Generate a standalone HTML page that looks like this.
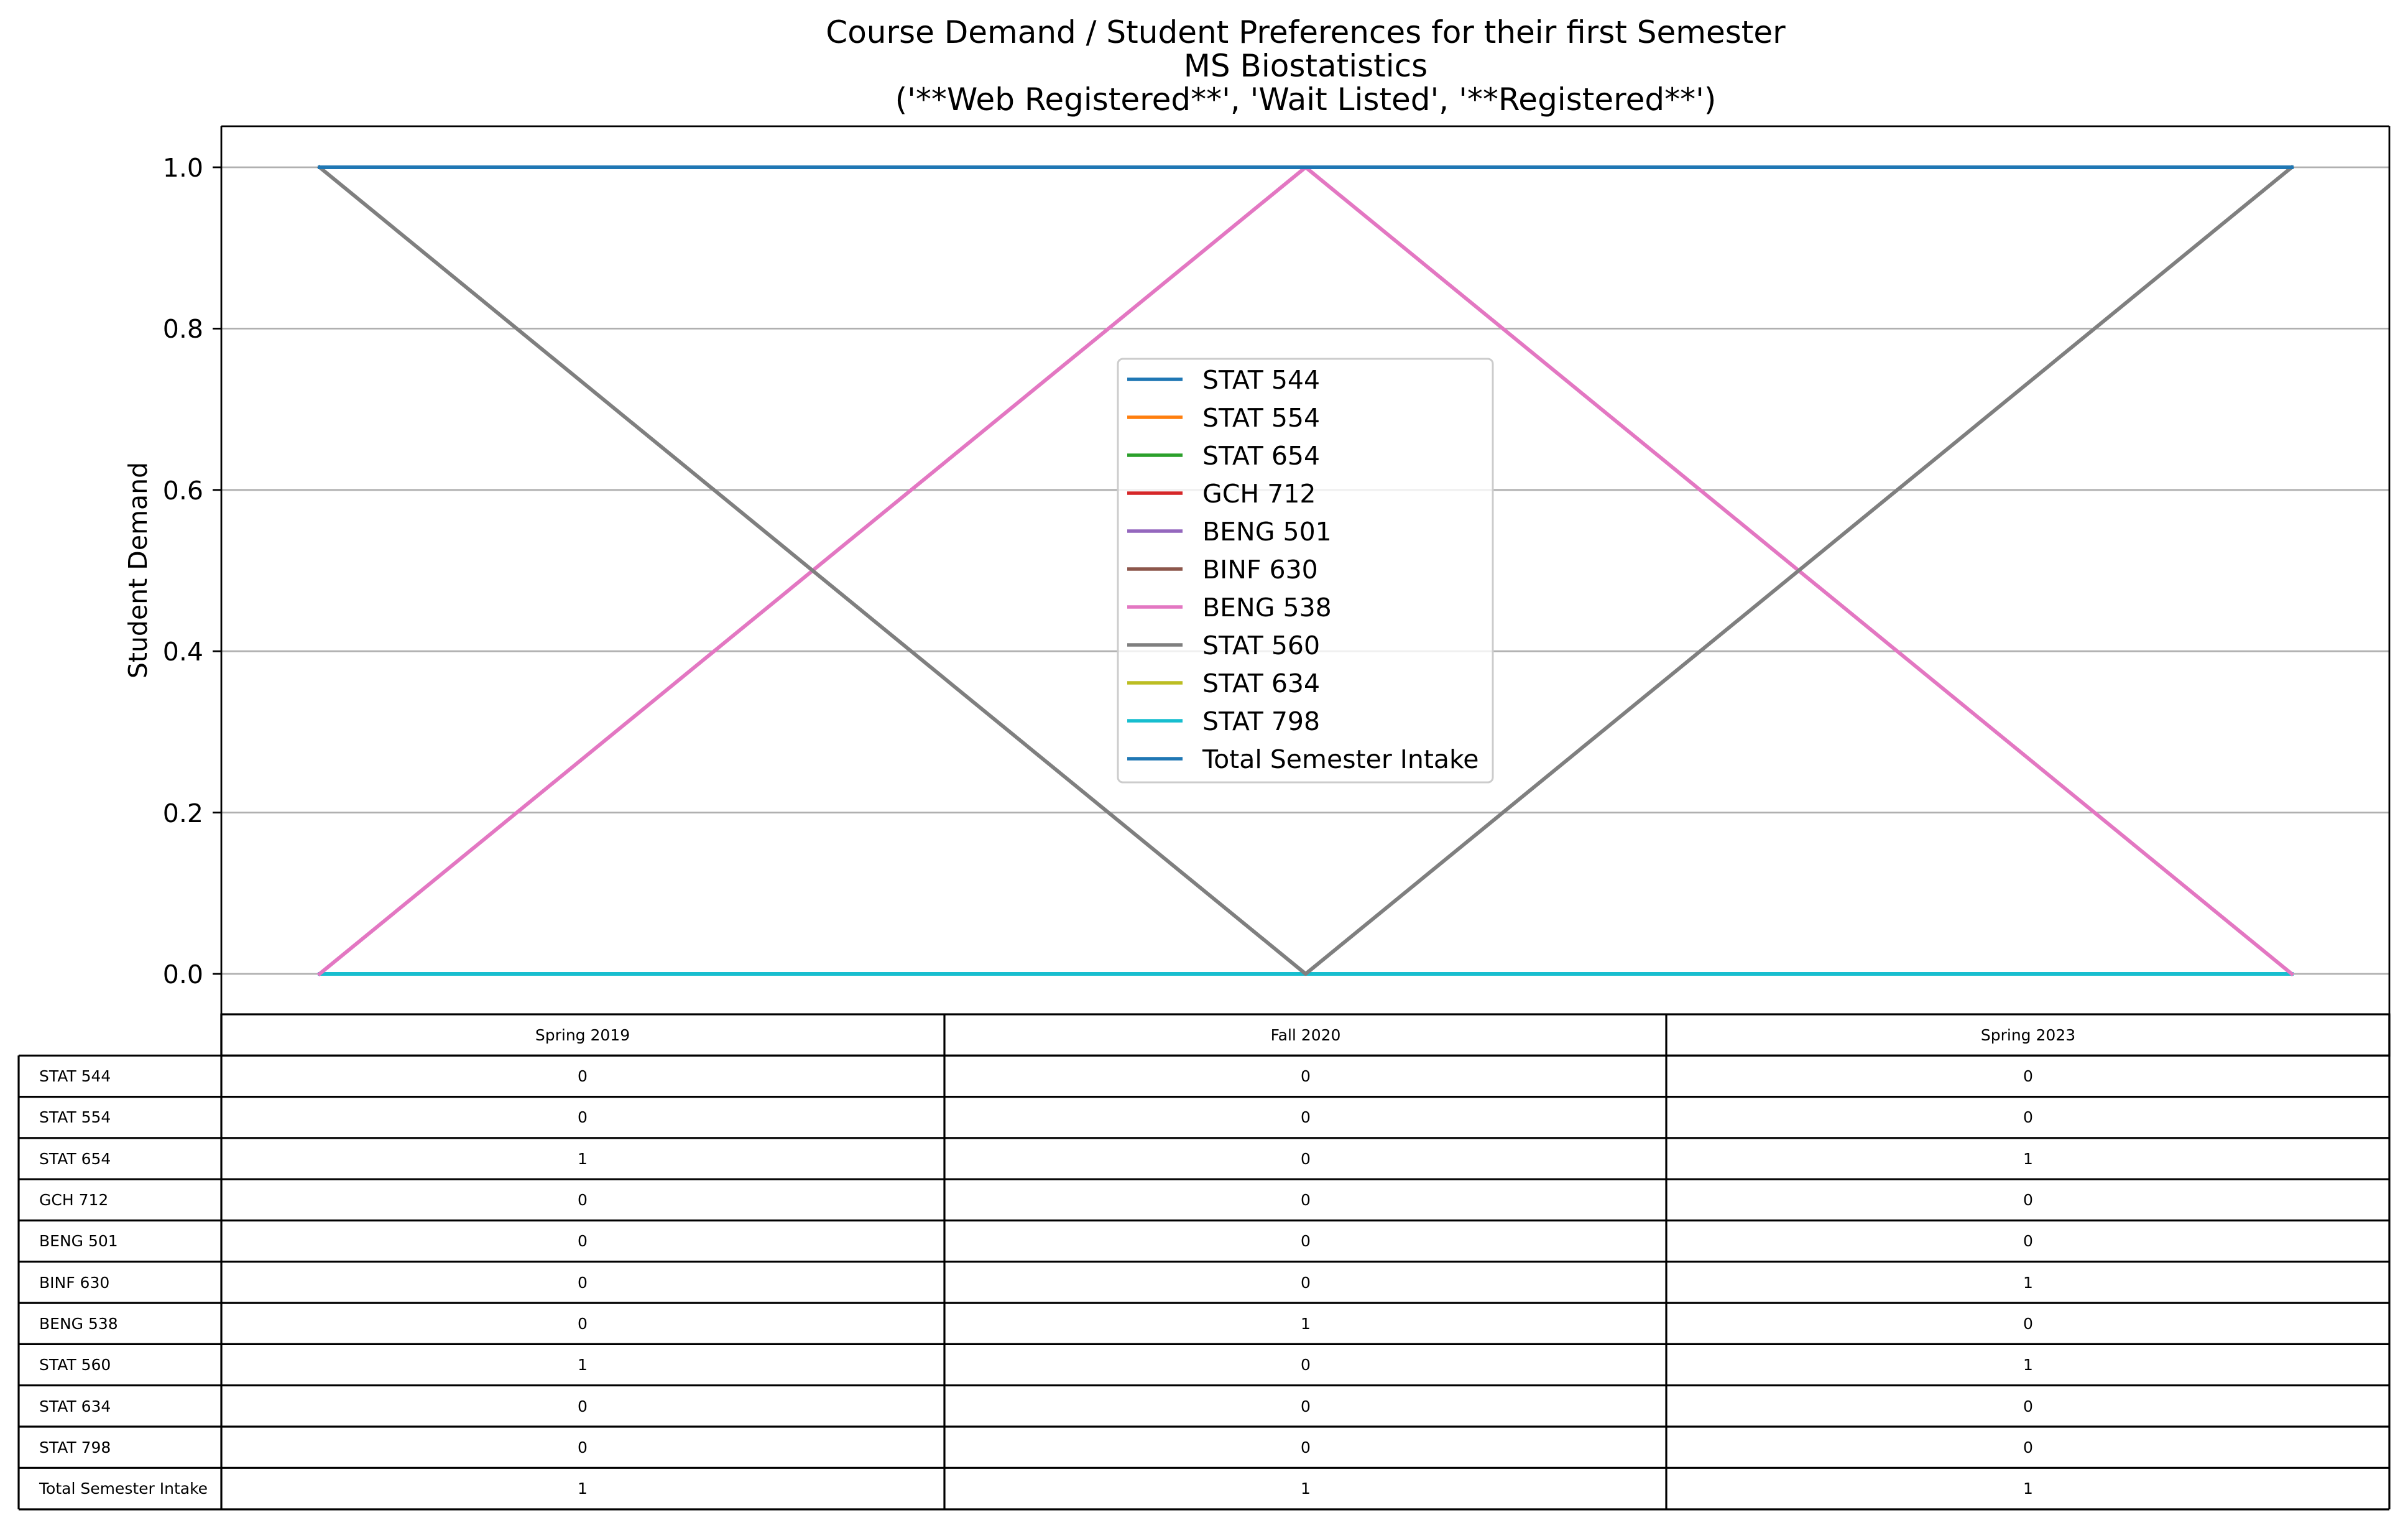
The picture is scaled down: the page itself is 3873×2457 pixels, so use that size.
<!DOCTYPE html>
<html><head><meta charset="utf-8"><style>html,body{margin:0;padding:0;background:#fff}svg{display:block}</style></head>
<body>
<svg width="3873" height="2457" viewBox="0 0 3873 2457" xmlns="http://www.w3.org/2000/svg" font-family="'DejaVu Sans','Liberation Sans',sans-serif">
<rect width="3873" height="2457" fill="#fff"/>
<g font-size="50" text-anchor="middle" fill="#000">
<text x="2100" y="69">Course Demand / Student Preferences for their first Semester</text>
<text x="2100" y="123">MS Biostatistics</text>
<text x="2100" y="177">('**Web Registered**', 'Wait Listed', '**Registered**')</text>
</g>
<g stroke="#b0b0b0" stroke-width="2.8">
<line x1="356" y1="269" x2="3843" y2="269"/>
<line x1="356" y1="528.4" x2="3843" y2="528.4"/>
<line x1="356" y1="787.8" x2="3843" y2="787.8"/>
<line x1="356" y1="1047.2" x2="3843" y2="1047.2"/>
<line x1="356" y1="1306.6" x2="3843" y2="1306.6"/>
<line x1="356" y1="1566" x2="3843" y2="1566"/>
</g>
<g stroke="#000" stroke-width="2.8">
<line x1="342" y1="269" x2="356" y2="269"/>
<line x1="342" y1="528.4" x2="356" y2="528.4"/>
<line x1="342" y1="787.8" x2="356" y2="787.8"/>
<line x1="342" y1="1047.2" x2="356" y2="1047.2"/>
<line x1="342" y1="1306.6" x2="356" y2="1306.6"/>
<line x1="342" y1="1566" x2="356" y2="1566"/>
</g>
<g font-size="41" text-anchor="end" fill="#000">
<text x="327" y="284">1.0</text>
<text x="327" y="543">0.8</text>
<text x="327" y="803">0.6</text>
<text x="327" y="1062">0.4</text>
<text x="327" y="1322">0.2</text>
<text x="327" y="1581">0.0</text>
</g>
<text transform="translate(236,917) rotate(-90)" font-size="41" text-anchor="middle">Student Demand</text>
<g fill="none" stroke-width="6" stroke-linejoin="round" stroke-linecap="square">
<polyline points="514,1566 2100,1566 3686,1566" stroke="#17becf"/>
<polyline points="514,1566 2100,269 3686,1566" stroke="#e377c2"/>
<polyline points="514,269 2100,1566 3686,269" stroke="#7f7f7f"/>
<polyline points="514,269 2100,269 3686,269" stroke="#1f77b4"/>
</g>
<rect x="1798" y="577" width="603" height="681" rx="8" fill="#fff" fill-opacity="0.8" stroke="#cccccc" stroke-width="3"/>
<g stroke-width="5.5">
<line x1="1813" y1="610" x2="1902" y2="610" stroke="#1f77b4"/>
<line x1="1813" y1="671" x2="1902" y2="671" stroke="#ff7f0e"/>
<line x1="1813" y1="732" x2="1902" y2="732" stroke="#2ca02c"/>
<line x1="1813" y1="793" x2="1902" y2="793" stroke="#d62728"/>
<line x1="1813" y1="854" x2="1902" y2="854" stroke="#9467bd"/>
<line x1="1813" y1="915" x2="1902" y2="915" stroke="#8c564b"/>
<line x1="1813" y1="976" x2="1902" y2="976" stroke="#e377c2"/>
<line x1="1813" y1="1037" x2="1902" y2="1037" stroke="#7f7f7f"/>
<line x1="1813" y1="1098" x2="1902" y2="1098" stroke="#bcbd22"/>
<line x1="1813" y1="1159" x2="1902" y2="1159" stroke="#17becf"/>
<line x1="1813" y1="1220" x2="1902" y2="1220" stroke="#1f77b4"/>
</g>
<g font-size="41" fill="#000">
<text x="1934" y="625">STAT 544</text>
<text x="1934" y="686">STAT 554</text>
<text x="1934" y="747">STAT 654</text>
<text x="1934" y="808">GCH 712</text>
<text x="1934" y="869">BENG 501</text>
<text x="1934" y="930">BINF 630</text>
<text x="1934" y="991">BENG 538</text>
<text x="1934" y="1052">STAT 560</text>
<text x="1934" y="1113">STAT 634</text>
<text x="1934" y="1174">STAT 798</text>
<text x="1934" y="1235">Total Semester Intake</text>
</g>
<g stroke="#000" stroke-width="2.8" fill="none">
<line x1="356" y1="203" x2="3843" y2="203"/>
<line x1="356" y1="203" x2="356" y2="1631"/>
<line x1="3843" y1="203" x2="3843" y2="1631"/>
</g>
<g stroke="#000" stroke-width="3.2" fill="none">
<rect x="356" y="1631" width="3487" height="66.3"/>
<line x1="1519" y1="1631" x2="1519" y2="2427"/>
<line x1="2680" y1="1631" x2="2680" y2="2427"/>
<line x1="356" y1="1631" x2="356" y2="2427"/>
<line x1="3843" y1="1631" x2="3843" y2="2427"/>
<line x1="30" y1="1697.3" x2="30" y2="2427"/>
<line x1="30" y1="1697.3" x2="3843" y2="1697.3"/>
<line x1="30" y1="1763.6" x2="3843" y2="1763.6"/>
<line x1="30" y1="1829.9" x2="3843" y2="1829.9"/>
<line x1="30" y1="1896.2" x2="3843" y2="1896.2"/>
<line x1="30" y1="1962.5" x2="3843" y2="1962.5"/>
<line x1="30" y1="2028.8" x2="3843" y2="2028.8"/>
<line x1="30" y1="2095.1" x2="3843" y2="2095.1"/>
<line x1="30" y1="2161.4" x2="3843" y2="2161.4"/>
<line x1="30" y1="2227.7" x2="3843" y2="2227.7"/>
<line x1="30" y1="2294" x2="3843" y2="2294"/>
<line x1="30" y1="2360.3" x2="3843" y2="2360.3"/>
<line x1="30" y1="2427" x2="3843" y2="2427"/>
</g>
<g font-size="25" fill="#000">
<g text-anchor="middle">
<text x="937" y="1673">Spring 2019</text><text x="2100" y="1673">Fall 2020</text><text x="3262" y="1673">Spring 2023</text>
</g>
<g>
<text x="63" y="1739">STAT 544</text>
<text x="63" y="1805">STAT 554</text>
<text x="63" y="1872">STAT 654</text>
<text x="63" y="1938">GCH 712</text>
<text x="63" y="2004">BENG 501</text>
<text x="63" y="2071">BINF 630</text>
<text x="63" y="2137">BENG 538</text>
<text x="63" y="2203">STAT 560</text>
<text x="63" y="2270">STAT 634</text>
<text x="63" y="2336">STAT 798</text>
<text x="63" y="2402">Total Semester Intake</text>
</g>
<g text-anchor="middle">
<text x="937" y="1739">0</text><text x="2100" y="1739">0</text><text x="3262" y="1739">0</text>
<text x="937" y="1805">0</text><text x="2100" y="1805">0</text><text x="3262" y="1805">0</text>
<text x="937" y="1872">1</text><text x="2100" y="1872">0</text><text x="3262" y="1872">1</text>
<text x="937" y="1938">0</text><text x="2100" y="1938">0</text><text x="3262" y="1938">0</text>
<text x="937" y="2004">0</text><text x="2100" y="2004">0</text><text x="3262" y="2004">0</text>
<text x="937" y="2071">0</text><text x="2100" y="2071">0</text><text x="3262" y="2071">1</text>
<text x="937" y="2137">0</text><text x="2100" y="2137">1</text><text x="3262" y="2137">0</text>
<text x="937" y="2203">1</text><text x="2100" y="2203">0</text><text x="3262" y="2203">1</text>
<text x="937" y="2270">0</text><text x="2100" y="2270">0</text><text x="3262" y="2270">0</text>
<text x="937" y="2336">0</text><text x="2100" y="2336">0</text><text x="3262" y="2336">0</text>
<text x="937" y="2402">1</text><text x="2100" y="2402">1</text><text x="3262" y="2402">1</text>
</g>
</g>
</svg>
</body></html>
